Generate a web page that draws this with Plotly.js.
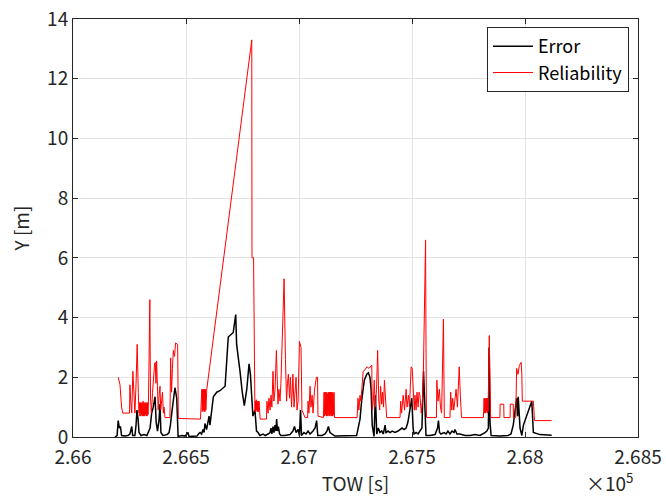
<!DOCTYPE html>
<html>
<head>
<meta charset="utf-8">
<script src="https://cdn.plot.ly/plotly-3.0.1.min.js"></script>
<style>html,body{margin:0;padding:0;background:#fff;}#chart{width:666px;height:501px;}</style>
</head>
<body>
<div id="chart"></div>
<script>
// Reliability series (TOW [s], Y [m])
const towRel = [266200,266208,266215,266220,266250,266252,266257,266260,266265,266270,266274,266279,266284,266289,266292,
266294,266296,266298,266300,266302,266304,266306,266308,266310,266312,266314,266316,266318,266320,266322,266324,266326,266328,266330,266332,
266334,266340,266343,266347,266352,266356,266361,266364,266367,266370,266374,266377,266381,266385,266388,266392,266396,266400,266403,266407,
266429,266432,266436,266440,266444,266449,266454,266463,266466,266564,
266566,266568,266570,266572,266574,266576,266578,266580,266582,266584,266586,266588,266590,266591,266592,
266791,266792,266799,266801,266803,266805,266807,266809,266811,266813,266815,266817,266819,266821,266823,266825,266827,266828,
266856,266858,266863,266867,266872,266876,266880,266885,266889,266894,266900,266905,266907,266911,266916,266920,266925,266934,266940,266945,
266949,266953,266958,266962,266967,266973,266978,266982,266987,266991,266996,267002,267009,267013,267020,267027,267038,267040,267044,267049,
267053,267058,267062,267069,267077,267082,267084,267108,
267111,267113,267115,267117,267119,267121,267123,267125,267127,267129,267131,267133,267135,267137,267139,267141,267143,267145,267147,267149,267151,267153,267155,
267157,267257,267261,267265,267270,267274,267279,267284,267292,267301,267310,267322,267324,267329,267333,267338,267343,267348,267353,267357,
267361,267366,267370,267374,267378,267383,267388,267447,267450,267454,267461,267467,267474,267478,267484,267489,267496,267501,267506,267510,
267513,267518,267522,267527,267531,267535,267541,267546,267550,267560,267562,267564,267608,267610,267615,267621,267626,267631,267639,267643,
267668,267671,267676,267680,267685,267689,267695,267701,267709,267714,267719,267816,
267819,267821,267823,267825,267827,267829,267831,267833,267835,267837,267842,267848,
267889,267890,267906,267907,267934,267935,267948,267949,267959,267963,267969,267975,267983,267986,267988,268037,268042,268118];
const relVals = [2.0,1.75,1.0,0.8,0.8,1.75,1.0,0.8,2.2,1.2,0.8,1.8,3.1,1.5,0.8,
1.15,0.7,1.15,0.7,1.15,0.75,1.15,0.7,1.2,0.7,1.15,0.7,1.15,0.75,1.15,0.7,1.15,0.7,1.15,0.75,
1.2,4.6,1.3,0.8,1.5,2.0,2.45,2.5,1.8,2.55,1.5,0.9,1.4,1.7,0.9,1.2,1.5,0.8,1.0,0.65,
0.65,2.65,1.5,2.3,2.9,2.7,3.15,3.1,0.62,0.6,
1.3,0.85,1.6,0.85,1.6,0.9,1.6,0.85,1.6,0.85,1.6,0.9,1.55,0.9,1.6,
13.3,6.0,6.0,4.5,1.2,0.85,1.2,0.85,1.25,0.9,1.2,0.85,1.2,0.85,1.2,0.9,1.1,0.6,
0.6,1.2,0.8,1.3,0.9,1.4,1.0,2.2,1.2,1.6,2.9,2.0,1.1,1.6,1.2,1.8,3.0,5.3,2.6,1.2,
1.8,2.1,1.3,2.0,1.0,2.1,1.0,1.5,2.0,0.9,1.2,3.2,3.0,0.9,0.8,0.65,0.65,1.2,0.8,1.7,
1.0,1.4,0.8,1.6,2.0,2.0,0.7,0.65,
1.5,0.7,1.5,0.75,1.5,0.7,1.5,0.7,1.45,0.75,1.5,0.7,1.5,0.7,1.5,0.75,1.5,0.7,1.5,0.7,1.45,0.75,1.5,
0.65,0.65,1.3,0.9,1.4,1.2,1.8,2.2,2.25,2.35,2.3,2.4,0.9,1.2,1.9,1.0,1.6,2.9,1.2,0.9,
1.7,1.1,1.5,1.0,1.9,1.3,0.65,0.65,1.2,0.8,1.4,0.9,1.6,1.0,1.4,1.0,2.35,2.3,1.5,0.9,
1.4,0.9,1.5,1.0,1.5,1.4,0.8,1.2,2.0,6.6,3.0,0.65,0.65,1.9,1.2,1.6,1.0,0.8,3.95,0.65,
0.65,1.5,0.9,1.3,0.9,1.3,1.6,1.0,2.35,1.4,0.65,0.65,
1.3,0.8,1.3,0.8,1.3,0.85,1.3,0.8,1.3,0.85,3.4,0.65,
0.65,1.1,1.1,0.65,0.65,1.1,1.1,0.65,0.65,2.3,2.1,2.4,2.5,2.1,1.2,1.2,0.55,0.55];

// Error series (TOW [s], Y [m])
const towErr = [266186,266195,266200,266205,266210,266215,266230,266243,266252,266260,266264,266274,266279,266283,266288,266292,266301,266314,266327,266334,
266341,266348,266355,266363,266368,266374,266381,266385,266389,266398,266416,266425,266431,266437,266444,266451,266459,266462,266465,266482,
266496,266504,266509,266513,266549,266555,266562,266569,266575,266580,266584,266591,266597,266602,266606,266613,266621,266636,266650,266673,
266687,266709,266720,266724,266730,266739,266749,266758,266769,266779,266785,266790,266796,266805,266812,266819,266827,266841,266850,266863,
266872,266876,266880,266885,266889,266894,266898,266901,266905,266909,266914,266920,266938,266960,266973,266980,266987,266996,267002,267007,
267011,267022,267031,267040,267049,267062,267071,267078,267083,267102,267115,267124,267130,267137,267146,267159,267255,267263,267270,267277,
267289,267300,267307,267314,267319,267324,267332,267338,267344,267351,267358,267366,267373,267381,267385,267394,267403,267412,267425,267438,
267447,267456,267465,267474,267482,267491,267499,267505,267509,267518,267527,267535,267544,267551,267558,267562,267580,267602,267613,267617,
267622,267628,267642,267651,267659,267668,267677,267686,267690,267699,267712,267735,267757,267779,267801,267814,267823,267831,267838,267841,
267845,267850,267889,267925,267938,267948,267956,267963,267967,267970,267978,267986,267993,268008,268022,268030,268037,268066,268118];
const errVals = [0.0,0.05,0.55,0.3,0.35,0.05,0.03,0.05,0.1,0.35,0.05,0.05,0.4,0.9,0.6,0.15,0.05,0.08,0.05,0.15,
0.3,0.8,1.0,1.35,0.5,0.2,0.6,1.1,0.15,0.05,0.08,0.15,0.4,0.8,1.2,1.65,1.3,0.5,0.02,0.05,
0.03,0.1,0.15,0.02,0.03,0.1,0.15,0.1,0.25,0.15,0.45,0.25,0.5,0.7,0.4,0.9,1.35,1.5,1.55,1.7,
3.35,3.5,4.1,3.1,2.8,2.2,1.5,1.05,1.6,2.45,2.1,1.6,0.7,0.9,0.2,0.15,0.05,0.1,0.05,0.1,
0.15,0.3,0.1,0.35,0.15,0.4,0.2,0.6,0.2,0.35,0.1,0.05,0.05,0.08,0.2,0.35,0.15,0.25,0.05,0.9,
0.05,0.15,0.1,0.2,0.1,0.2,0.3,0.55,0.05,0.05,0.1,0.2,0.35,0.15,0.1,0.03,0.05,0.3,0.6,1.2,
1.9,2.1,2.15,2.0,1.6,0.4,0.02,1.4,0.1,0.3,0.15,0.2,0.1,0.4,0.15,0.2,0.15,0.2,0.15,0.2,
0.25,0.3,0.25,0.3,0.5,0.9,1.3,0.3,0.1,0.15,0.1,0.2,0.3,2.2,1.0,0.05,0.05,0.08,0.3,0.55,
0.15,0.1,0.15,0.1,0.2,0.1,0.2,0.15,0.25,0.1,0.1,0.05,0.05,0.08,0.05,0.1,0.15,0.2,0.3,3.0,
0.5,0.05,0.03,0.05,0.1,0.4,0.9,1.3,0.7,1.35,0.3,0.05,0.4,0.7,1.05,1.2,0.15,0.08,0.06];

const xTickVals = [266000,266500,267000,267500,268000,268500];
const xTickText = ['2.66','2.665','2.67','2.675','2.68','2.685'];
const yTickVals = [0,2,4,6,8,10,12,14];

const FONT = 'Noto Sans CJK JP, Liberation Sans, sans-serif';
const traces = [
  {x: towErr, y: errVals, type: 'scatter', mode: 'lines', name: 'Error', line: {color: '#000000', width: 1.5}},
  {x: towRel, y: relVals, type: 'scatter', mode: 'lines', name: 'Reliability', line: {color: '#ff0000', width: 1}}
];
const axisCommon = {
  showline: true, linecolor: '#262626', linewidth: 1, mirror: 'ticks',
  ticks: 'inside', ticklen: 5, tickcolor: '#262626',
  showgrid: true, gridcolor: '#e3e3e3', gridwidth: 1, zeroline: false,
  tickfont: {family: FONT, size: 19, color: '#262626'}
};
const layout = {
  width: 666, height: 501,
  margin: {l: 73, r: 28, t: 19, b: 64},
  paper_bgcolor: '#ffffff', plot_bgcolor: '#ffffff',
  showlegend: true,
  legend: {x: 0.984, y: 0.981, xanchor: 'right', yanchor: 'top', bgcolor: '#ffffff',
    bordercolor: '#262626', borderwidth: 1, font: {family: FONT, size: 18, color: '#000'},
    tracegroupgap: 0, itemwidth: 40},
  xaxis: Object.assign({}, axisCommon, {
    range: [266000, 268500], tickmode: 'array', tickvals: xTickVals, ticktext: xTickText,
    ticklabelstandoff: 3,
    title: {text: 'TOW [s]', font: {family: FONT, size: 19, color: '#262626'}, standoff: 3}
  }),
  yaxis: Object.assign({}, axisCommon, {
    range: [0, 14], tickmode: 'array', tickvals: yTickVals,
    ticklabelstandoff: 0,
    title: {text: 'Y [m]', font: {family: FONT, size: 19, color: '#262626'}, standoff: 12}
  }),
  annotations: [{
    xref: 'paper', yref: 'paper', x: 0.905, y: -0.069, xanchor: 'left', yanchor: 'top',
    text: '×10<sup>5</sup>', showarrow: false, font: {family: FONT, size: 19, color: '#262626'}
  }]
};
Plotly.newPlot('chart', traces, layout, {displayModeBar: false, staticPlot: true});
</script>
</body>
</html>
